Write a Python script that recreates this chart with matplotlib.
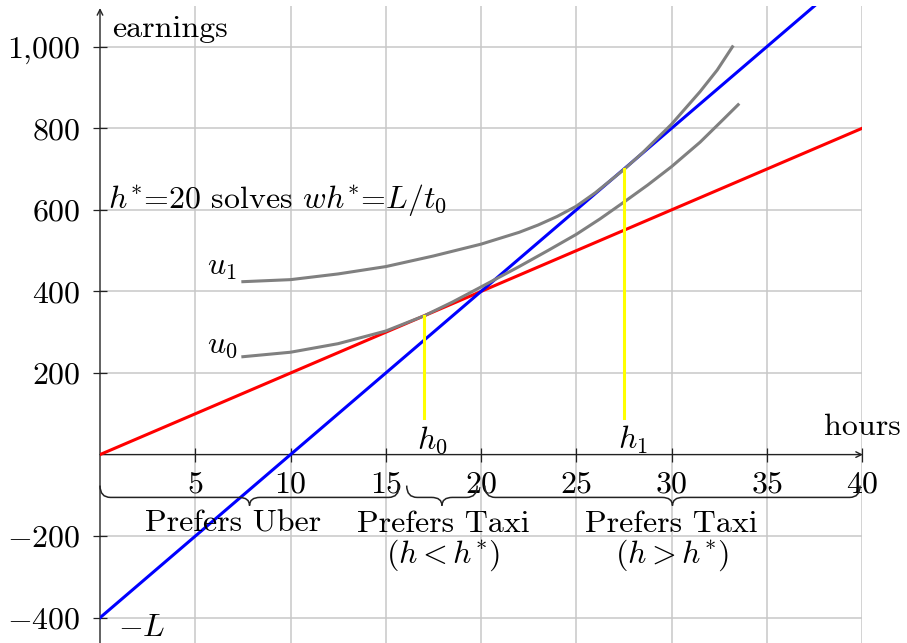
import matplotlib
matplotlib.use("Agg")
import matplotlib.pyplot as plt
from matplotlib.path import Path
from matplotlib.patches import PathPatch

plt.rcParams['font.family'] = 'serif'
plt.rcParams['font.serif'] = ['cmr10']
plt.rcParams['mathtext.fontset'] = 'cm'
plt.rcParams['axes.formatter.use_mathtext'] = True

# datos
wage_x = [0, 40]          # linea roja (Uber)
wage_y = [0, 800]
taxi_x = [0, 37.5]        # linea azul (Taxi)
taxi_y = [-400, 1100]

u0_x = [7.5, 10, 12.5, 15, 17, 18.5, 20, 22, 23.5, 25, 26.25, 27.5, 28.75, 30, 31.5, 32.7, 33.5]
u0_y = [240, 251, 272, 303, 340, 374, 411, 461, 500, 540, 578, 619, 661, 706, 766, 821, 858]
u1_x = [7.5, 10, 12.5, 15, 17.5, 20, 22, 23, 24, 25, 26, 27, 27.5, 28.5, 30, 31.5, 32.4, 33.2]
u1_y = [424, 429, 443, 461, 487, 516, 545, 563, 584, 609, 642, 680, 699, 741, 810, 890, 943, 1000]

h_opt = [17, 27.5]        # h0, h1
h_top = [340, 700]
h_names = [r'$h_0$', r'$h_1$']

x_ticks = [5, 10, 15, 20, 25, 30, 35, 40]
y_ticks = [-400, -200, 200, 400, 600, 800, 1000]
y_tick_labels = [r'$-400$', r'$-200$', r'$200$', r'$400$', r'$600$', r'$800$', r'$1{,}000$']

brace_spans = [(0, 15.7), (16.1, 19.8), (20.2, 39.9)]
brace_text = [('Prefers Uber', ''), ('Prefers Taxi', r'$(h<h^{*})$'), ('Prefers Taxi', r'$(h>h^{*})$')]
brace_text_x = [6.96, 18.0, 30.0]

FS = 23

fig = plt.figure(figsize=(9.07, 6.43), dpi=100)
ax = fig.add_axes([100/907, 0, 762/907, 637/643])
ax.set_xlim(0, 40)
ax.set_ylim(-462, 1100)

ax.set_xticks(x_ticks)
ax.set_xticklabels(['$%d$' % t for t in x_ticks])
ax.set_yticks(y_ticks)
ax.set_yticklabels(y_tick_labels)
ax.grid(True, color='#c8c8c8', lw=1.1)
ax.set_axisbelow(True)

for s in ['top', 'right', 'bottom', 'left']:
    ax.spines[s].set_visible(False)
ax.spines['bottom'].set_position(('data', 0))
ax.spines['left'].set_position(('data', 0))
ax.tick_params(direction='inout', length=10, width=0.9, color='#222222', labelsize=FS)
ax.tick_params(axis='x', pad=7)
ax.tick_params(axis='y', pad=9)

# ejes con flecha
ax.annotate('', xy=(40.05, 0), xytext=(0, 0), annotation_clip=False,
            arrowprops=dict(arrowstyle='->', lw=1.0, color='#222222', shrinkA=0, shrinkB=0))
ax.annotate('', xy=(0, 1095), xytext=(0, -462), annotation_clip=False,
            arrowprops=dict(arrowstyle='->', lw=1.0, color='#222222', shrinkA=0, shrinkB=0))

ax.plot(wage_x, wage_y, color='red', lw=2.2, zorder=3)
ax.plot(taxi_x, taxi_y, color='blue', lw=2.2, zorder=3)
ax.plot(u0_x, u0_y, color='gray', lw=2.2, zorder=4)
ax.plot(u1_x, u1_y, color='gray', lw=2.2, zorder=4)
for h, top, name in zip(h_opt, h_top, h_names):
    ax.plot([h, h], [90, top], color='yellow', lw=2.2, zorder=5)
    ax.text(h + 0.45, 15, name, ha='center', va='baseline', fontsize=FS)

ax.text(7.2, 441, r'$u_1$', ha='right', va='baseline', fontsize=FS)
ax.text(7.2, 250, r'$u_0$', ha='right', va='baseline', fontsize=FS)
ax.text(40, 49, 'hours', ha='center', va='baseline', fontsize=FS)
ax.text(0.63, 1024, 'earnings', ha='left', va='baseline', fontsize=FS)
ax.text(0.42, 605, r'$h^{*}$=20 solves $wh^{*}$=$L/t_0$', ha='left', va='baseline', fontsize=FS)
ax.text(0.95, -446, r'$-L$', ha='left', va='baseline', fontsize=FS)


def brace(ax, x0, x1, ytop=-76, ymid=-105, ytip=-125, r=0.55):
    xc = (x0 + x1) / 2
    verts = [(x0, ytop), (x0, ymid), (x0 + r, ymid), (xc - r, ymid),
             (xc, ymid), (xc, ytip), (xc, ymid), (xc + r, ymid),
             (x1 - r, ymid), (x1, ymid), (x1, ytop)]
    codes = [Path.MOVETO, Path.CURVE3, Path.CURVE3, Path.LINETO,
             Path.CURVE3, Path.CURVE3, Path.CURVE3, Path.CURVE3,
             Path.LINETO, Path.CURVE3, Path.CURVE3]
    ax.add_patch(PathPatch(Path(verts, codes), fill=False, lw=1.1,
                           edgecolor='#222222', zorder=6, clip_on=False))


for (a, b), (l1, l2), tx in zip(brace_spans, brace_text, brace_text_x):
    brace(ax, a, b)
    ax.text(tx, -189, l1, ha='center', va='baseline', fontsize=FS)
    if l2:
        ax.text(tx, -265, l2, ha='center', va='baseline', fontsize=FS)

fig.savefig('out.png', dpi=100)
